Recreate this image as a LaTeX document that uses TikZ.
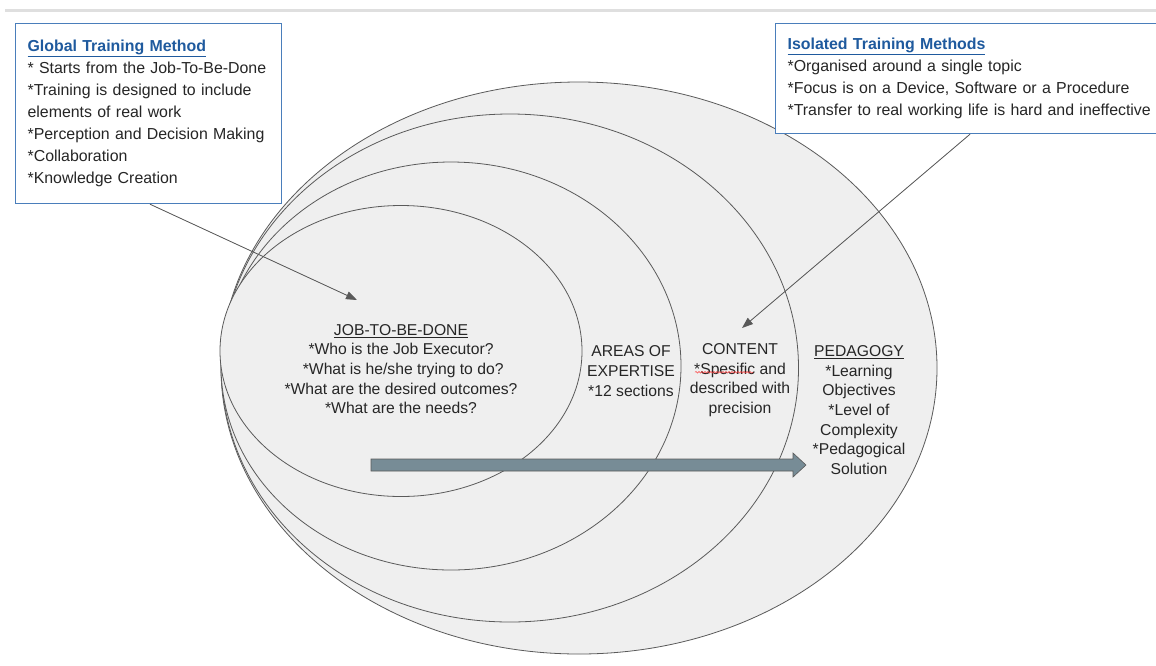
\documentclass[tikz,border=0pt]{standalone}
\usepackage{fontspec}
\setmainfont{Liberation Sans}
\usepackage{xcolor}
\usetikzlibrary{shapes,arrows,arrows.meta,positioning,calc,decorations.pathmorphing}

\definecolor{ringfill}{HTML}{EFEFEF}
\definecolor{ringline}{HTML}{5A5A5A}
\definecolor{boxline}{HTML}{4A7EBB}
\definecolor{titleblue}{HTML}{1F5A9E}
\definecolor{flowfill}{HTML}{778C96}
\definecolor{pointer}{HTML}{595959}

\begin{document}
\begin{tikzpicture}[
        x=1pt, y=-1pt,
        % Define styles for rings, boxes and texts
        ring/.style={draw=ringline, ellipse, fill=ringfill, line width=0.8pt, inner sep=0pt},
        infobox/.style={draw=boxline, line width=1.2pt, fill=white, anchor=north west, align=left, inner sep=12pt,
          font=\fontsize{15.9}{22}\selectfont, text=black!85},
        ringtext/.style={align=center, font=\fontsize{15.7}{19.6}\selectfont, text=black!85, inner sep=0pt},
        pointerarrow/.style={-{Triangle[length=11pt,width=8pt]}, draw=pointer, fill=pointer, line width=0.8pt}
      ]

      % Page area and the grey rule at the top
      \clip (0,0) rectangle (1156,665);
      \fill[white] (0,0) rectangle (1156,665);
      \draw[gray!25, line width=3pt] (5,10) -- (1156,10);

      % Nested rings, outermost first
      \node[ring, minimum width=716, minimum height=572] (pedring) at (579,368) {};
      \node[ring, minimum width=577, minimum height=508] (contring) at (510,368) {};
      \node[ring, minimum width=460, minimum height=408] (areasring) at (451,366) {};
      \node[ring, minimum width=362, minimum height=291] (jobring) at (401,351) {};

      % Flow arrow through the rings
      \coordinate (flowstart) at (371,465);
      \coordinate (flowtip) at (806,465);
      \draw[draw=ringline, fill=flowfill, line width=0.6pt]
        ($(flowstart)+(0,-6)$) -- ($(flowtip)+(-13,-6)$) -- ($(flowtip)+(-13,-12)$) -- (flowtip) --
        ($(flowtip)+(-13,12)$) -- ($(flowtip)+(-13,6)$) -- ($(flowstart)+(0,6)$) -- cycle;

      % Ring texts
      \node[ringtext] (jobtext) at (401,369) {\underline{JOB-TO-BE-DONE}\\{}*Who is the Job Executor?\\{}
        *What is he/she trying to do?\\{}*What are the desired outcomes?\\{}*What are the needs?};
      \node[ringtext] (areastext) at (631,371) {AREAS OF\\EXPERTISE\\{}*12 sections};
      \node[ringtext] (conttext) at (740,380) {CONTENT\\{}*Spesific and\\described with\\precision};
      \node[ringtext] (pedtext) at (859,410) {\underline{PEDAGOGY}\\{}*Learning\\Objectives\\{}*Level of\\
        Complexity\\{}*Pedagogical\\Solution};

      % Spell check mark under the misspelt word
      \draw[red!80, line width=0.5pt, decorate, decoration={snake, amplitude=0.8pt, segment length=3pt}]
        ($(conttext.north)+(-45,29)$) -- ($(conttext.north)+(13,29)$);

      % Method boxes
      \node[infobox, text width=242, minimum width=266, minimum height=180] (globalbox) at (15,23)
        {{\color{titleblue}\underline{\textbf{Global Training Method}}}\\{}* Starts from the Job-To-Be-Done\\{}
        *Training is designed to include\\elements of real work\\{}*Perception and Decision Making\\{}
        *Collaboration\\{}*Knowledge Creation};
      \node[infobox, text width=366, minimum width=390, minimum height=110] (isolatedbox) at (775,23)
        {{\color{titleblue}\underline{\textbf{Isolated Training Methods}}}\\{}*Organised around a single topic\\{}
        *Focus is on a Device, Software or a Procedure\\{}*Transfer to real working life is hard and ineffective};

      % Pointers from the boxes into the rings
      \coordinate (jobtip) at (357,300);
      \coordinate (conttip) at (742,328);
      \draw[pointerarrow] ($(globalbox.south west)+(135,0)$) -- (jobtip);
      \draw[pointerarrow] ($(isolatedbox.south west)+(195,0)$) -- (conttip);

    \end{tikzpicture}
\end{document}
